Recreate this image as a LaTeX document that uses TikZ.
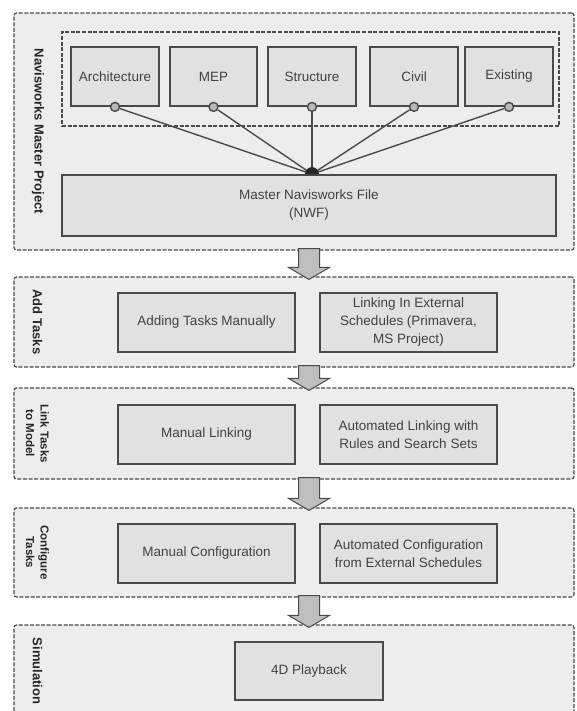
\documentclass[tikz,border=0pt]{standalone}
\usepackage{fontspec}
\setmainfont{Liberation Sans}
\usetikzlibrary{calc}
\definecolor{framefill}{HTML}{EDEDED}
\definecolor{boxfill}{HTML}{E1E1E1}
\definecolor{linec}{HTML}{4A4A4A}
\definecolor{textc}{HTML}{424242}
\definecolor{arrowc}{HTML}{BEBEBE}
\definecolor{labelc}{HTML}{262626}
\newcommand\fatarrow[2]{%
  \path[fatarrow] let \p1=(#1.south), \p2=(#2.north) in
    (\x1+4.5pt,\y1+2pt) -- (\x1+4.5pt,\y2+9pt) -- (\x1-5.5pt,\y2+9pt) --
    (\x1+15pt,\y2-3pt) -- (\x1+35.5pt,\y2+9pt) -- (\x1+25.5pt,\y2+9pt) --
    (\x1+25.5pt,\y1+2pt) -- cycle;}
\begin{document}
\begin{tikzpicture}[x=1pt,y=-1pt,
  frame/.style={draw=linec, fill=framefill, line width=1.2pt, dash pattern=on 4pt off 1.6pt, rounded corners=2.5pt, inner sep=0pt, minimum width=560pt},
  group/.style={draw=linec, line width=1.3pt, dash pattern=on 4pt off 1.6pt, inner sep=0pt},
  box/.style={draw=linec, fill=boxfill, line width=1.8pt, inner sep=2pt, align=center, text=textc, font=\fontsize{13.5}{18}\selectfont},
  lab/.style={rotate=-90, align=center, text=labelc, font=\bfseries\fontsize{13}{14.5}\selectfont},
  labsmall/.style={lab, font=\bfseries\fontsize{11.5}{14.5}\selectfont},
  port/.style={circle, draw=linec, fill=gray!55, line width=1.4pt, minimum size=9pt, inner sep=0pt},
  link/.style={draw=linec, line width=1.4pt},
  fatarrow/.style={draw=linec, fill=arrowc, line width=1pt, line join=miter}]
\useasboundingbox (0,0) rectangle (577,711);
\clip (0,0) rectangle (577,711);
\fill[white] (0,0) rectangle (577,711);

% frames
\node[frame, minimum height=237pt] (f1) at (294,131.5) {};
\node[frame, minimum height=90pt]  (f2) at (294,322) {};
\node[frame, minimum height=91pt]  (f3) at (294,433.5) {};
\node[frame, minimum height=89pt]  (f4) at (294,552.5) {};
\node[frame, minimum height=92pt]  (f5) at (294,671) {};

% frame 1 content
\node[group, minimum width=497pt, minimum height=94pt] (grp) at (310.5,79) {};
\node[box, minimum width=88pt, minimum height=59pt] (arch)   at (115,76.5)   {Architecture};
\node[box, minimum width=87pt, minimum height=59pt] (mep)    at (213.5,76.5) {MEP};
\node[box, minimum width=88pt, minimum height=59pt] (struct) at (312,76.5)   {Structure};
\node[box, minimum width=88pt, minimum height=59pt] (civil)  at (414,76.5)   {Civil};
\node[box, minimum width=88pt, minimum height=59pt] (exist)  at (509,76.5)   {Existing};
\node[box, minimum width=494pt, minimum height=61pt] (master) at (309,205.5) {Master Navisworks File\\(NWF)};
\coordinate (j) at (struct.south |- master.north);

\node[port] (c1) at (arch.south) {};
\node[port] (c2) at (mep.south) {};
\node[port] (c3) at (struct.south) {};
\node[port] (c4) at (civil.south) {};
\node[port] (c5) at (exist.south) {};
\foreach \c in {c1,c2,c3,c4,c5} \draw[link] (\c) -- (j);
\fill[black!85] ($(j)+(-7,0)$) arc[start angle=180, end angle=360, radius=7] -- cycle;

% frame 2
\node[box, minimum width=177pt, minimum height=59pt] (addman) at (206.5,322.5) {Adding Tasks Manually};
\node[box, minimum width=177pt, minimum height=59pt] (linkext) at (408.5,322.5) {Linking In External\\Schedules (Primavera,\\MS Project)};
% frame 3
\node[box, minimum width=177pt, minimum height=59pt] (manlink) at (206.5,434.5) {Manual Linking};
\node[box, minimum width=177pt, minimum height=59pt] (autolink) at (408.5,434.5) {Automated Linking with\\Rules and Search Sets};
% frame 4
\node[box, minimum width=177pt, minimum height=59pt] (manconf) at (206.5,553.5) {Manual Configuration};
\node[box, minimum width=177pt, minimum height=59pt] (autoconf) at (408.5,553.5) {Automated Configuration\\from External Schedules};
% frame 5
\node[box, minimum width=148pt, minimum height=58pt] (play) at (309,671) {4D Playback};

% labels
\node[lab] (l1) at (38,131.5) {Navisworks Master Project};
\node[lab] (l2) at (37.5,322) {Add Tasks};
\node[labsmall] (l3) at (37.5,433.5) {Link Tasks\\to Model};
\node[labsmall] (l4) at (37.5,552.5) {Configure\\Tasks};
\node[lab] (l5) at (37.5,671) {Simulation};

% arrows between stages
\fatarrow{f1}{f2}
\fatarrow{f2}{f3}
\fatarrow{f3}{f4}
\fatarrow{f4}{f5}
\end{tikzpicture}
\end{document}
